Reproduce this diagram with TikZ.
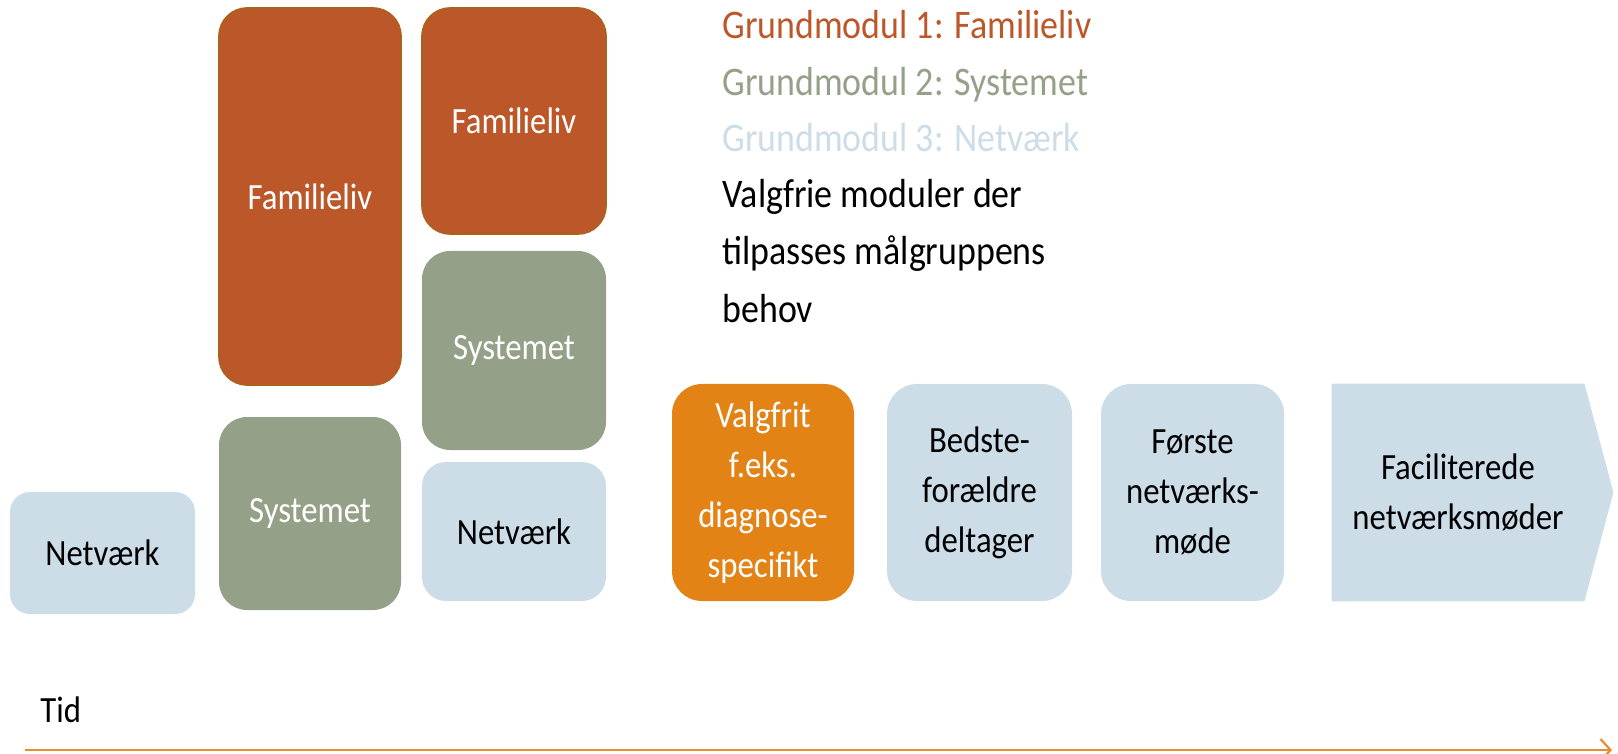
\documentclass[tikz,border=0pt]{standalone}
\usepackage{fontspec}
\setmainfont{Carlito}[FakeStretch=0.885]
\usetikzlibrary{arrows.meta,backgrounds}
\definecolor{famcol}{RGB}{188,87,42}
\definecolor{famedge}{RGB}{172,98,28}
\definecolor{syscol}{RGB}{149,160,136}
\definecolor{netcol}{RGB}{204,221,232}
\definecolor{valgcol}{RGB}{227,131,22}
\definecolor{tidcol}{RGB}{232,141,48}
\begin{document}
\begin{tikzpicture}[x=0.5pt,y=-0.5pt,
 box/.style={rectangle, rounded corners=14pt, inner sep=0pt, align=center, font=\fontsize{18.5}{25}\selectfont},
 fambox/.style={box, fill=famcol, draw=famedge, line width=0.8pt, text=white},
 sysbox/.style={box, fill=syscol, text=white},
 netbox/.style={box, fill=netcol, text=black},
 valgbox/.style={box, fill=valgcol, text=white},
 legend/.style={anchor=base west, inner sep=0pt, font=\fontsize{20.3}{28}\selectfont},
]
\useasboundingbox (0,0) rectangle (1618,754);
% column 1
\node[netbox, rounded corners=10pt, minimum width=92.5pt, minimum height=61pt] (net1) at (102.5,553) {Netværk};
% column 2
\node[fambox, minimum width=91pt, minimum height=188.5pt] (fam1) at (310,196.5) {Familieliv};
\node[sysbox, minimum width=91pt, minimum height=96.5pt] (sys1) at (310,513.5) {Systemet};
% column 3
\node[fambox, minimum width=92pt, minimum height=113pt] (fam2) at (514,121) {Familieliv};
\node[sysbox, minimum width=92pt, minimum height=99.5pt] (sys2) at (514,350.5) {Systemet};
\node[netbox, rounded corners=12pt, minimum width=92pt, minimum height=69.5pt] (net2) at (514,531.5) {Netværk};
% lower row
\node[valgbox, rounded corners=15pt, minimum width=91pt, minimum height=108.5pt] (valg) at (763,492.5) {Valgfrit\\f.eks.\\diagnose-\\specifikt};
\node[netbox, rounded corners=15pt, minimum width=92.5pt, minimum height=108.5pt] (bed) at (979.5,492.5) {Bedste-\\forældre\\deltager};
\node[netbox, rounded corners=15pt, minimum width=91.5pt, minimum height=108.5pt] (foer) at (1192.5,492.5) {Første\\netværks-\\møde};
\node[box, minimum width=126pt, minimum height=108.5pt] (fac) at (1458,492.5) {Faciliterede\\netværksmøder};
\begin{scope}[on background layer]
\fill[netcol] (fac.north west) -- (fac.north east) -- ([xshift=14.5pt]fac.east) -- (fac.south east) -- (fac.south west) -- cycle;
\end{scope}
% legend
\node[legend, text=famcol] (leg1) at (722,39) {Grundmodul 1: Familieliv};
\node[legend, text=syscol] (leg2) at (722,96) {Grundmodul 2: Systemet};
\node[legend, text=netcol] (leg3) at (722,152) {Grundmodul 3: Netværk};
\node[legend] (leg4) at (722,208) {Valgfrie moduler der};
\node[legend] (leg5) at (722,265) {tilpasses målgruppens};
\node[legend] (leg6) at (722,322) {behov};
% time axis
\node[anchor=base west, inner sep=0pt, font=\fontsize{18.5}{25}\selectfont] (tid) at (40,722) {Tid};
\coordinate (ts) at (25,750);
\coordinate (te) at (1612,750);
\draw[tidcol, line width=1.1pt, -{Straight Barb[length=5pt,width=11pt]}] (ts) -- (te);
\end{tikzpicture}
\end{document}
